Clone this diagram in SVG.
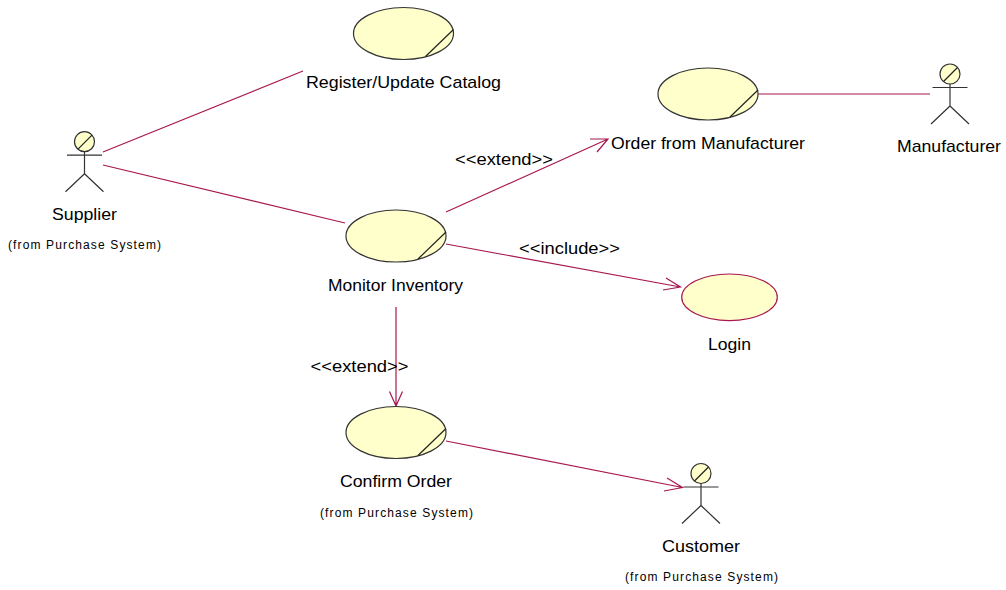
<svg xmlns="http://www.w3.org/2000/svg" width="1006" height="590" viewBox="0 0 1006 590">
<defs>
<style>
.uc{fill:#ffffcb;stroke:#333;stroke-width:1.2}
.login{fill:#ffffcb;stroke:#a8174f;stroke-width:1.2}
.d{fill:none;stroke:#222;stroke-width:1.2}
.a{fill:none;stroke:#333;stroke-width:1.2}
.c{fill:none;stroke:#a8174f;stroke-width:1.2}
text{font-family:"Liberation Sans",Arial,sans-serif;fill:#000;text-anchor:middle}
.t{font-size:17px}
.s{font-size:12px}
</style>
<g id="actor">
<circle class="uc" cx="0" cy="0" r="10"/>
<path class="d" d="M-6.500 7.500L7.500-6.500"/>
<path class="a" d="M-17.500 13.500H17.500M0 10V32M0 32L-19 50M0 32L19 50"/>
</g>
<g id="usecase">
<ellipse class="uc" cx="0" cy="0" rx="50" ry="26"/>
<path class="d" d="M22 23L50-4"/>
</g>
</defs>
<rect width="1006" height="590" fill="#fff"/>
<g id="connectors">
<path class="c" d="M103 152L303 71"/>
<path class="c" d="M103 165L345 223"/>
<path class="c" d="M758 94H930"/>
<path class="c" d="M446 212L608 139M590 139L608 139L597 152"/>
<path class="c" d="M446 244L680.500 287M666 278L680.500 287L663 290"/>
<path class="c" d="M396 307V406M389.500 391.500L396 406L402.500 391.500"/>
<path class="c" d="M446 441L682.500 487.500M667 478L682.500 487.500L664 491"/>
</g>
<g id="register"><use href="#usecase" x="403.500" y="33.500"/><text class="t" x="403.500" y="88" textLength="195" lengthAdjust="spacingAndGlyphs">Register/Update Catalog</text></g>
<g id="order-man"><use href="#usecase" x="708" y="94"/><text class="t" x="708" y="149" textLength="194" lengthAdjust="spacingAndGlyphs">Order from Manufacturer</text></g>
<g id="monitor"><use href="#usecase" x="396" y="236"/><text class="t" x="395.500" y="291" textLength="135" lengthAdjust="spacingAndGlyphs">Monitor Inventory</text></g>
<g id="login"><ellipse class="login" cx="729.500" cy="297.300" rx="47.800" ry="23.300"/><text class="t" x="729.500" y="350" textLength="43" lengthAdjust="spacingAndGlyphs">Login</text></g>
<g id="confirm"><use href="#usecase" x="396" y="432.500"/><text class="t" x="396" y="487" textLength="112" lengthAdjust="spacingAndGlyphs">Confirm Order</text><text class="s" x="396.500" y="517" textLength="153" lengthAdjust="spacing">(from Purchase System)</text></g>
<g id="supplier"><use href="#actor" x="84.500" y="141.700"/><text class="t" x="84.500" y="220" textLength="65" lengthAdjust="spacingAndGlyphs">Supplier</text><text class="s" x="84.500" y="249" textLength="153" lengthAdjust="spacing">(from Purchase System)</text></g>
<g id="manufacturer"><use href="#actor" x="950" y="74"/><text class="t" x="949" y="152" textLength="104" lengthAdjust="spacingAndGlyphs">Manufacturer</text></g>
<g id="customer"><use href="#actor" x="701" y="473.500"/><text class="t" x="701" y="552" textLength="78" lengthAdjust="spacingAndGlyphs">Customer</text><text class="s" x="701.500" y="581" textLength="153" lengthAdjust="spacing">(from Purchase System)</text></g>
<g id="labels">
<text class="t" x="504" y="165" textLength="98" lengthAdjust="spacingAndGlyphs">&lt;&lt;extend&gt;&gt;</text>
<text class="t" x="569.500" y="254" textLength="101" lengthAdjust="spacingAndGlyphs">&lt;&lt;include&gt;&gt;</text>
<text class="t" x="359.500" y="372" textLength="98" lengthAdjust="spacingAndGlyphs">&lt;&lt;extend&gt;&gt;</text>
</g>
</svg>
